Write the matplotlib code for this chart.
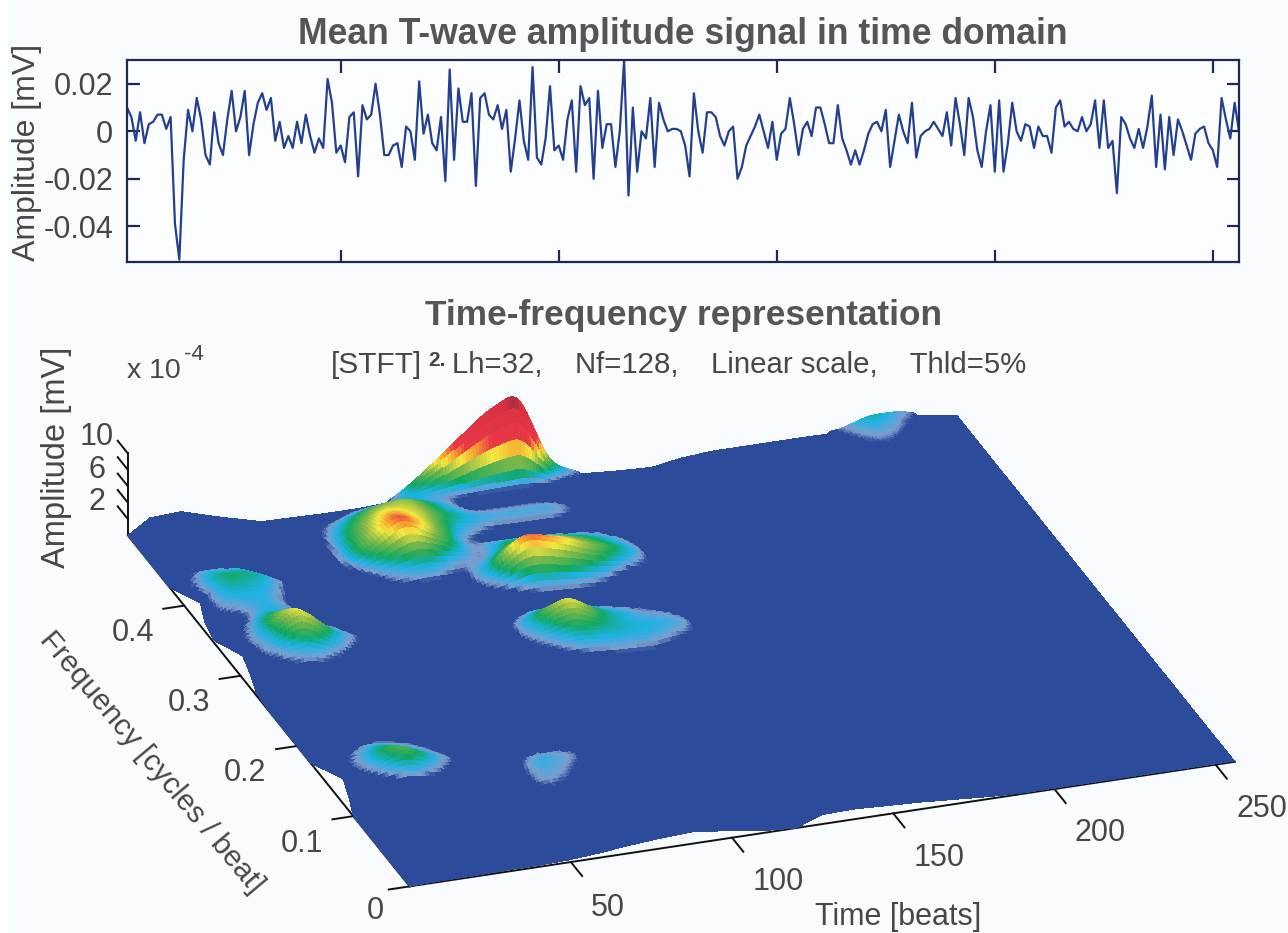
import numpy as np
import matplotlib
matplotlib.use('Agg')
import matplotlib.pyplot as plt
from matplotlib.colors import LinearSegmentedColormap
from matplotlib.patches import Rectangle
from mpl_toolkits.mplot3d import proj3d

plt.rcParams['font.family'] = ['Liberation Sans', 'DejaVu Sans']

# mean T-wave signal, one value per beat, in 1e-3 mV
signal_a = [10,6,-4,8,-5,3,4,7,7,1, 6,-39,-54,-12,9,0,14,5,-10,-14,
            8,-5,-10,5,17,0,6,17,-10,3, 12,16,9,14,-4,4,-7,-2,-7,4,
            -5,7,-2,-9,-3,-7,22,12,-9,-6, -13,6,8,-19,11,5,7,20,7,-10,
            -10,-6,-5,-15,2,0,-12,21,-1,7]
signal_b = [-5,-8,6,-21,26,-12,18,4,4,16, -23,14,16,7,5,11,1,9,-17,-3,
            13,-4,-12,27,-11,-14,-3,19,-8,-6, -12,5,13,-17,19,11,14,-20,17,-7,
            3,3,-15,0,30,-27,10,-17,0,-3, 14,-15,12,5,0,1,1,0,-6,-19,
            16,0,-9,8,8,6,-2,-6,0,2, -20,-15,-6,-2,2,7,0,-7,4,-12,
            -1,1,14,3,-10,1,4,-2,10,10, 3,-5,-5,11,-3,-8]
signal_c = [-14,-8,-14,-8,-1,3,4,0,9,-15, -4,7,0,-5,12,-11,-2,0,1,4,
            1,-2,8,-6,14,3,-10,14,6,-8, -15,0,11,-17,13,-17,-5,12,0,-4,
            3,2,-7,2,-2,-2,-9,10,13,2, 4,1,0,6,0,3,13,-7,13,-7,
            -4,-26,6,3,-3,-7,1,-7,2,15, -15,7,-16,6,-10,5,0,-6,-12,-1,
            1,2,-5,-8,-15,14,5,-3,12,0]

# time-frequency surface, in 1e-4 mV
time_cols = [0,10,20,30,40,50,60,70,80,90,100,110,120,130,140,150,160,170,180,190,200,210,220,230,240,250,256]
freq_rows = [0,.025,.05,.075,.1,.125,.15,.175,.2,.225,.25,.275,.3,.325,.35,.375,.4,.425,.45,.475,.49,.5]
tail = [0]*12
tail_i = [0,0,0,0,0,0,0,.2,.5,.2,0,0]
tail_m = [0,0,0,0,0,0,0,.3,.9,.4,0,0]
tail_j = [0,0,0,0,0,0,0,.5,1.3,.6,0,0]
amp_rows = [
    [0]*27, [0]*27, [0]*27, [0]*27,
    [0,0,0,0,0,0,.6,.3,0,0,0,0,0,0,0] + tail,
    [0,0,.3,.2,0,0,.9,.5,0,0,0,0,0,0,0] + tail,
    [0,.8,2.5,.7,0,0,0,0,0,0,0,0,0,0,0] + tail,
    [0,0,.4,.4,0,0,0,0,0,0,0,0,0,0,0] + tail,
    [0]*27,
    [0,0,0,0,0,.45,0,0,0,0,0,0,0,0,0] + tail,
    [0,0,0,0,0,0,0,0,0,0,.2,.3,.3,.2,0] + tail,
    [0,0,0,0,0,0,0,0,0,.5,1.3,1.1,1.0,.8,0] + tail,
    [0,.4,1.0,.3,0,0,0,0,0,1.5,4.0,1.3,.6,.2,0] + tail,
    [0,1.0,4.2,.9,0,0,0,0,0,0,0,0,0,0,0] + tail,
    [0,0,1.0,.3,0,0,0,0,0,.2,.6,.6,.4,0,0] + tail,
    [0,.8,.9,0,0,0,0,0,0,1.4,5.4,4.2,2.6,1.3,0] + tail,
    [0,1.6,1.3,0,0,0,.7,1.2,.6,.3,2.0,2.2,1.5,.5,0] + tail,
    [0,.2,0,0,0,0,2.4,5.4,3.0,.4,0,0,0,0,0] + tail,
    [0,0,0,0,0,0,1.9,3.8,3.0,1.4,.8,.8,.8,.3,0] + tail,
    [0,0,0,0,0,0,.8,2.2,2.7,1.0,0,0,0,0,0] + tail_i,
    [0,0,0,0,0,0,0,.6,.9,.4,.5,.5,.5,.3,0] + tail_m,
    [0,0,0,0,0,0,0,0,0,3,7,11,13.5,1.8,0] + tail_j,
]

# how far the ragged surface border sits from the nominal box
front_edge = [0,.001,.001,.002,.002,.003,.006,.01,.013,.015,.01,.003,0,.012,.013,.011,.009,.006,.003,.001,.001,.001,.001,.001,.001,.001,.001]
back_edge = [0,.018,.02,.005,-.008,-.009,-.01,-.01,-.008,-.005,-.005,-.005,-.005,-.005,-.009,-.012,-.014,-.008,-.005,-.005,-.005,-.005,-.006,-.002,.004,-.002,-.006]
left_edge = [0,0,0,0,0,3,5.5,0,0,0,0,.5,3,5,.5,2,5,0,0,0,0,0]

time_ticks = [50,100,150,200,250]
time_label_shift = [0,2.9,2.9,2.9,2.9]
top_y_ticks = [-.04,-.02,0,.02]
top_y_labels = ['-0.04','-0.02','0','0.02']
freq_ticks = [0,.1,.2,.3,.4]
freq_labels = ['0','0.1','0.2','0.3','0.4']
freq_label_shift = [-15,-20.4,-20.4,-20.4,-20.4]
amp_ticks = [2,4,6,8,10]
amp_labels = ['2','','6','','10']

W, H = 1288, 933
BG = '#f9fcfe'
TXT = '#474747'
INK = '#111111'

fig = plt.figure(figsize=(W/100, H/100), dpi=100, facecolor=BG)
fig.patches.append(Rectangle((0, 0), 8/W, 1, transform=fig.transFigure, facecolor='white', edgecolor='none'))

# top panel
signal = np.array(signal_a + signal_b + signal_c)*1e-3
ax1 = fig.add_axes([127/W, 1-262/H, (1239-127)/W, (262-60)/H], facecolor='#fbfdfe')
ax1.plot(np.arange(1, len(signal)+1), signal, color='#23408f', lw=1.6)
ax1.set_xlim(1, 256)
ax1.set_ylim(-.055, .03)
ax1.set_xticks(time_ticks)
ax1.set_xticklabels([])
ax1.set_yticks(top_y_ticks)
ax1.set_yticklabels(top_y_labels, fontsize=22, color=TXT)
ax1.tick_params(direction='in', top=True, right=True, length=9, width=1.6, color='#1c2858', pad=10)
for s in ax1.spines.values():
    s.set_color('#1c2858')
    s.set_linewidth(1.6)

fig.text(27/W, 1-152/H, 'Amplitude [mV]', rotation=90, fontsize=23, color=TXT, ha='center', va='center')
fig.text(683/W, 1-34/H, 'Mean T-wave amplitude signal in time domain', fontsize=25.6, fontweight='bold', color='#555555', ha='center', va='center')
fig.text(684/W, 1-316/H, 'Time-frequency representation', fontsize=25.4, fontweight='bold', color='#555555', ha='center', va='center')
fig.text(331/W, 1-365/H, '[STFT]', fontsize=21.5, color=TXT, ha='left', va='center')
fig.text(428/W, 1-361/H, '2.', fontsize=15, fontweight='bold', color=TXT, ha='left', va='center')
fig.text(452/W, 1-365/H, 'Lh=32,    Nf=128,    Linear scale,    Thld=5%', fontsize=21.2, color=TXT, ha='left', va='center')
fig.text(127/W, 1-371/H, 'x 10', fontsize=20.5, color=TXT, ha='left', va='center')
fig.text(184/W, 1-355/H, '-4', fontsize=16, color=TXT, ha='left', va='center')
fig.text(57/W, 1-457/H, 'Amplitude [mV]', rotation=90, fontsize=23.5, color=TXT, ha='center', va='center')
fig.text(152/W, 1-762/H, 'Frequency [cycles / beat]', rotation=-50, rotation_mode='anchor', fontsize=21.5, color=TXT, ha='center', va='center')
fig.text(898/W, 1-917/H, 'Time [beats]', fontsize=22, color=TXT, ha='center', va='center')

amp = np.array(amp_rows, dtype=float)
tt = np.arange(0, 257, 1.0)
ff = np.linspace(0, .5, 251)
by_t = np.array([np.interp(tt, time_cols, row) for row in amp])
Z = np.array([np.interp(ff, freq_rows, by_t[:, i]) for i in range(len(tt))]).T

def soften(a, n, axis):
    kernel = np.ones(n)/n
    return np.apply_along_axis(lambda r: np.convolve(np.pad(r, n//2, mode='edge'), kernel, 'valid'), axis, a)

for i in range(2):
    Z = soften(Z, 5, 1)
    Z = soften(Z, 5, 0)

# nothing under the 5% threshold is drawn as a hill
Z[Z < .32] = 0

# coarser rows where the surface is flat, fine ones on the steep back peak
keep = (np.arange(len(ff)) % 2 == 0) | (ff > .46)
ff = ff[keep]
Z = Z[keep]

T, F = np.meshgrid(tt, ff)
fr = np.interp(tt, time_cols, front_edge)
bk = .5 + np.interp(tt, time_cols, back_edge)
F = fr + (F/.5)*(bk-fr)
T = T + (1-T/256)*np.interp(ff, freq_rows, left_edge)[:, None]

stops = [(0, '#2d4b9b'), (.033, '#2d4b9b'), (.045, '#7d9cc8'), (.06, '#55a6da'), (.085, '#1db2e2'),
         (.14, '#12a860'), (.24, '#84b848'), (.33, '#f5e840'), (.40, '#f5a030'), (.48, '#e83848'),
         (.86, '#d83040'), (.92, '#80303f'), (1, '#301018')]
cmap = LinearSegmentedColormap.from_list('tfr', stops)
colors = cmap(np.clip(Z/Z.max(), 0, 1))

# square axes so the box falls where it does in the figure
side = 1288
left = 20
bottom = -336
ax = fig.add_axes([left/W, bottom/H, side/W, side/H], projection='3d', facecolor='none')
ax.set_proj_type('ortho')
ax.view_init(elev=25.7, azim=-109.2)
ax.set_box_aspect((874, 857, 91), zoom=.925)
ax.plot_surface(T, F, Z, facecolors=colors, rcount=len(ff), ccount=len(tt), shade=False,
                linewidth=0, antialiased=False)
ax.set_xlim(0, 256, view_margin=0)
ax.set_ylim(0, .5, view_margin=0)
ax.set_zlim(0, 10, view_margin=0)
ax.grid(False)
for a in (ax.xaxis, ax.yaxis, ax.zaxis):
    a.set_pane_color((1, 1, 1, 0))
    a.pane.set_edgecolor('none')
    a.line.set_color(INK)
    a.line.set_linewidth(1.4)
ax.set_xticks([])
ax.set_yticks([])
ax.set_zticks([])

# labels sit in the figure, at the spot the 3d axes projects them to
fig.canvas.draw()
def label3d(x, y, z, s):
    x2, y2, _ = proj3d.proj_transform(x, y, z, ax.get_proj())
    px, py = ax.transData.transform((x2, y2))
    fig.text(px/W, py/H, s, fontsize=22, color=TXT, ha='center', va='center')

# ticks lean along the box edges, so they are drawn in data coordinates
for t, dt in zip(time_ticks, time_label_shift):
    ax.plot([t, t], [0, -.02], [0, 0], color=INK, lw=1.4)
    label3d(t+dt, -.065, 0, str(t))
for f, s, dt in zip(freq_ticks, freq_labels, freq_label_shift):
    ax.plot([0, -6.5], [f, f], [0, 0], color=INK, lw=1.4)
    label3d(dt, f-.025, 0, s)
for z, s in zip(amp_ticks, amp_labels):
    ax.plot([0, 0], [.5, .518], [z, z], color=INK, lw=1.4)
    if s:
        label3d(-4.8, .527, z, s)

fig.savefig('out.png', dpi=100, facecolor=fig.get_facecolor())
